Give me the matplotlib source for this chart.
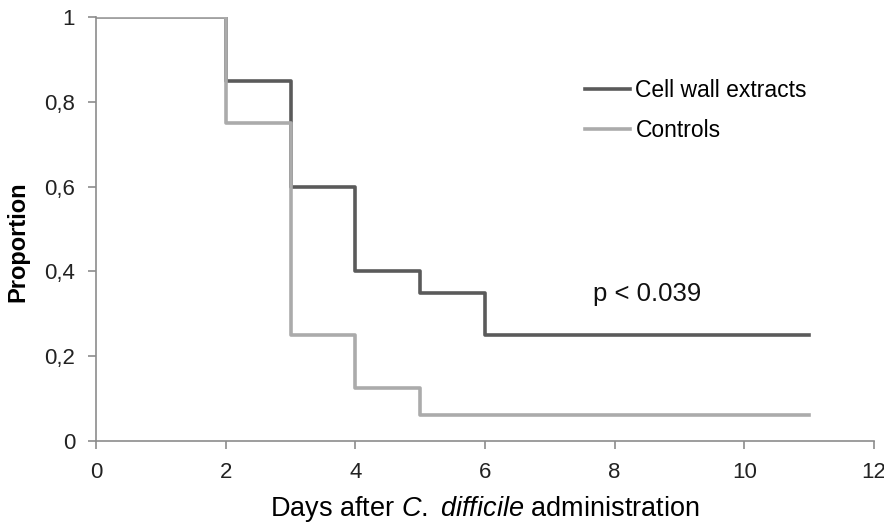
import matplotlib
matplotlib.use("Agg")
import matplotlib.pyplot as plt

plt.rcParams['font.family'] = ['Liberation Sans', 'DejaVu Sans']
plt.rcParams['mathtext.fontset'] = 'custom'
plt.rcParams['mathtext.rm'] = 'Liberation Sans'
plt.rcParams['mathtext.it'] = 'Liberation Sans:italic'

# dados (curvas de sobrevivencia)
dias = [0, 2, 3, 4, 5, 6, 11]
cell_wall = [1, 0.85, 0.6, 0.4, 0.35, 0.25, 0.25]
controles = [1, 0.75, 0.25, 0.125, 0.0625, 0.0625, 0.0625]

xticks = [0, 2, 4, 6, 8, 10, 12]
yticks = [0, 0.2, 0.4, 0.6, 0.8, 1]
ylabels = ["0", "0,2", "0,4", "0,6", "0,8", "1"]

fig = plt.figure(figsize=(8.84, 5.24), dpi=100)
ax = fig.add_axes([96 / 884, 83 / 524, 778 / 884, 424 / 524])

ax.step(dias, cell_wall, where='post', color='#5a5a5a', lw=2.6, label='Cell wall extracts')
ax.step(dias, controles, where='post', color='#ababab', lw=2.6, label='Controls')

ax.set_xlim(0, 12)
ax.set_ylim(0, 1)
ax.set_xticks(xticks)
ax.set_yticks(yticks)
ax.set_yticklabels(ylabels)

for lado in ['top', 'right']:
    ax.spines[lado].set_visible(False)
for lado in ['left', 'bottom']:
    ax.spines[lado].set_color('#8c8c8c')
    ax.spines[lado].set_linewidth(1.2)
ax.tick_params(direction='out', length=6, width=1.2, color='#8c8c8c',
               labelsize=16, labelcolor='#222222')
ax.tick_params(axis='x', pad=9)
ax.tick_params(axis='y', pad=9)

ax.set_ylabel('Proportion', fontsize=17, fontweight='bold')
ax.yaxis.set_label_coords(-0.085, 0.469)
ax.set_xlabel('Days after $\\it{C.}$ $\\it{difficile}$ administration', fontsize=19.5, labelpad=8)

ax.text(7.67, 0.347, 'p < 0.039', fontsize=18.5, color='#111111', va='center')

ax.legend(frameon=False, loc='upper left', bbox_to_anchor=(0.628, 0.853),
          borderaxespad=0, borderpad=0, handlelength=2.0, handletextpad=0.22,
          labelspacing=0.72, fontsize=16.5)

fig.savefig('out.png', dpi=100)
